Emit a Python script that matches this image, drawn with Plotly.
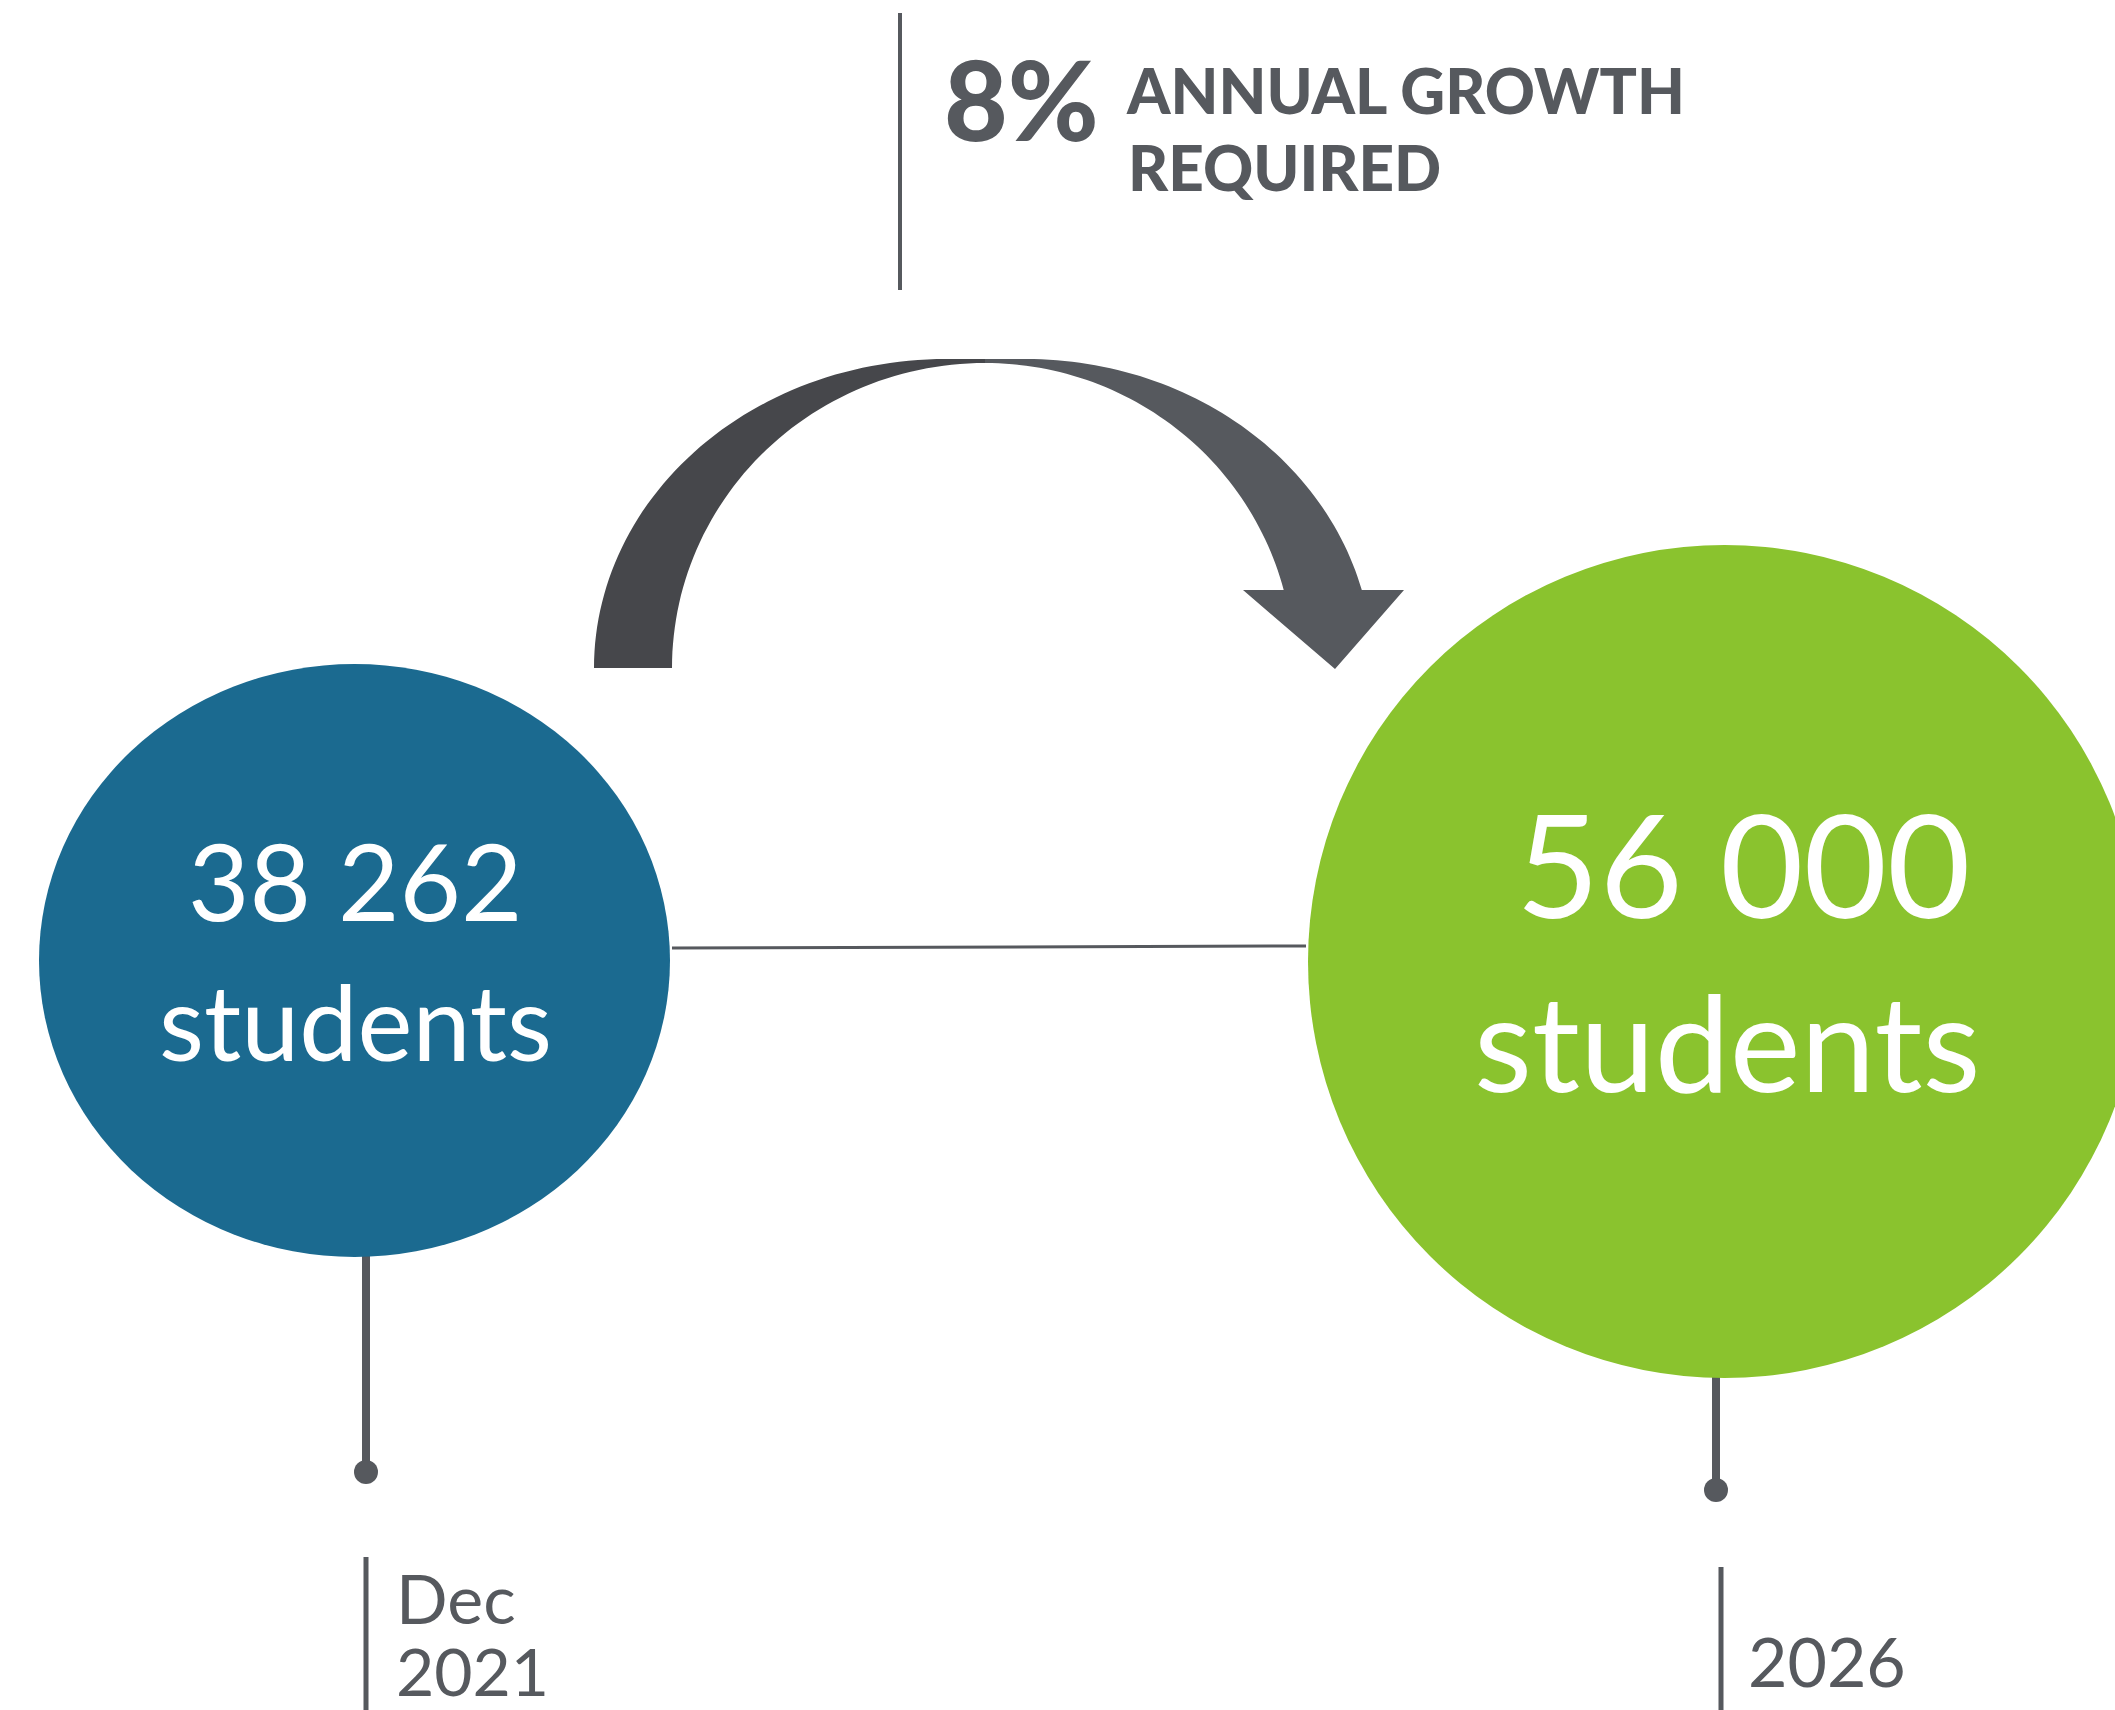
import numpy as np
import plotly.graph_objects as go

# ---- data ----
period_labels = ["Dec", "2021", "2026"]
student_counts = [38262, 56000]
growth_rate_pct = 8
growth_caption = ["ANNUAL GROWTH", "REQUIRED"]
unit_label = "students"

# ---- style ----
W, H = 2115, 1710
BLUE = "#1B6A90"
GREEN = "#8AC32E"
GRAY = "#56595E"
DARK = "#46474B"
FONT = "Lato"


def fmt(n):
    return f"{n:,}".replace(",", " ")


def arc(cx, cy, rx, ry, t0, t1, n=60):
    t = np.linspace(t0, t1, n)
    return list(zip(cx + rx * np.cos(t), cy - ry * np.sin(t)))


def path(pts):
    return "M " + " L ".join(f"{x:.1f},{y:.1f}" for x, y in pts) + " Z"


fig = go.Figure()

# invisible trace to set axes
fig.add_trace(go.Scatter(x=[0, W], y=[0, H], mode="markers",
                         marker=dict(opacity=0), hoverinfo="skip", showlegend=False))

shapes = []
# top vertical divider
shapes.append(dict(type="line", x0=900, x1=900, y0=13, y1=290,
                   line=dict(color=GRAY, width=4)))
# stems
shapes.append(dict(type="line", x0=366, x1=366, y0=1200, y1=1472,
                   line=dict(color=GRAY, width=8)))
shapes.append(dict(type="line", x0=1716, x1=1716, y0=1300, y1=1490,
                   line=dict(color=GRAY, width=8)))
for cx, cy in [(366, 1472), (1716, 1490)]:
    shapes.append(dict(type="circle", x0=cx - 12, x1=cx + 12, y0=cy - 12, y1=cy + 12,
                       fillcolor=GRAY, line=dict(width=0)))
# date bars
shapes.append(dict(type="line", x0=366, x1=366, y0=1557, y1=1712,
                   line=dict(color=GRAY, width=5)))
shapes.append(dict(type="line", x0=1721, x1=1721, y0=1567, y1=1712,
                   line=dict(color=GRAY, width=5)))
# connector
shapes.append(dict(type="line", x0=672, x1=1306, y0=948, y1=946,
                   line=dict(color=GRAY, width=3)))
# circles
shapes.append(dict(type="circle", x0=39, x1=670, y0=664, y1=1257,
                   fillcolor=BLUE, line=dict(width=0)))
shapes.append(dict(type="circle", x0=1308, x1=2141, y0=545, y1=1378,
                   fillcolor=GREEN, line=dict(width=0)))

# curved arrow - left (darker) part
left_pts = arc(946, 668, 352, 309, np.pi, np.pi / 2) + [(985, 359), (985, 363)] + \
    arc(985, 668, 313, 305, np.pi / 2, np.pi)
shapes.append(dict(type="path", path=path(left_pts), fillcolor=DARK, line=dict(width=0)))
# right part with head
t_out = np.arcsin(78 / 309)
t_in = np.arcsin(78 / 305)
right_pts = [(985, 359)] + arc(1026, 668, 347, 309, np.pi / 2, t_out) + \
    [(1404, 590), (1335, 669), (1243, 590)] + arc(985, 668, 309, 305, t_in, np.pi / 2)
shapes.append(dict(type="path", path=path(right_pts), fillcolor=GRAY, line=dict(width=0)))

ann = []
# circle labels
ann.append(dict(x=355, y=880, text=fmt(student_counts[0]), font=dict(family=FONT, size=106, color="white")))
ann.append(dict(x=355, y=1020, text=unit_label, font=dict(family=FONT, size=104, color="white")))
ann.append(dict(x=1743, y=862, text=fmt(student_counts[1]), font=dict(family=FONT, size=144, color="white")))
ann.append(dict(x=1727, y=1040, text=unit_label, font=dict(family=FONT, size=134, color="white")))
for a in ann:
    a.update(xanchor="center", yanchor="middle")

# growth label
ann.append(dict(x=942, y=98, text=f"{growth_rate_pct}%", xanchor="left", yanchor="middle",
                font=dict(family=FONT, size=110, color=GRAY, weight=900)))
ann.append(dict(x=1124, y=90, text=growth_caption[0], xanchor="left", yanchor="middle",
                font=dict(family=FONT, size=62, color=GRAY, weight=900)))
ann.append(dict(x=1126, y=167, text=growth_caption[1], xanchor="left", yanchor="middle",
                font=dict(family=FONT, size=62, color=GRAY, weight=900)))

# period labels
ann.append(dict(x=394, y=1597, text=period_labels[0], xanchor="left", yanchor="middle",
                font=dict(family=FONT, size=68, color=GRAY)))
ann.append(dict(x=394, y=1670, text=period_labels[1], xanchor="left", yanchor="middle",
                font=dict(family=FONT, size=66, color=GRAY)))
ann.append(dict(x=1746, y=1660, text=period_labels[2], xanchor="left", yanchor="middle",
                font=dict(family=FONT, size=68, color=GRAY)))

for a in ann:
    a.update(xref="x", yref="y", showarrow=False)

fig.update_layout(
    width=W, height=H,
    margin=dict(l=0, r=0, t=0, b=0),
    paper_bgcolor="white", plot_bgcolor="white",
    xaxis=dict(range=[0, W], visible=False, fixedrange=True),
    yaxis=dict(range=[H, 0], visible=False, fixedrange=True),
    shapes=shapes, annotations=ann, showlegend=False,
)

fig.write_html("out.html")
